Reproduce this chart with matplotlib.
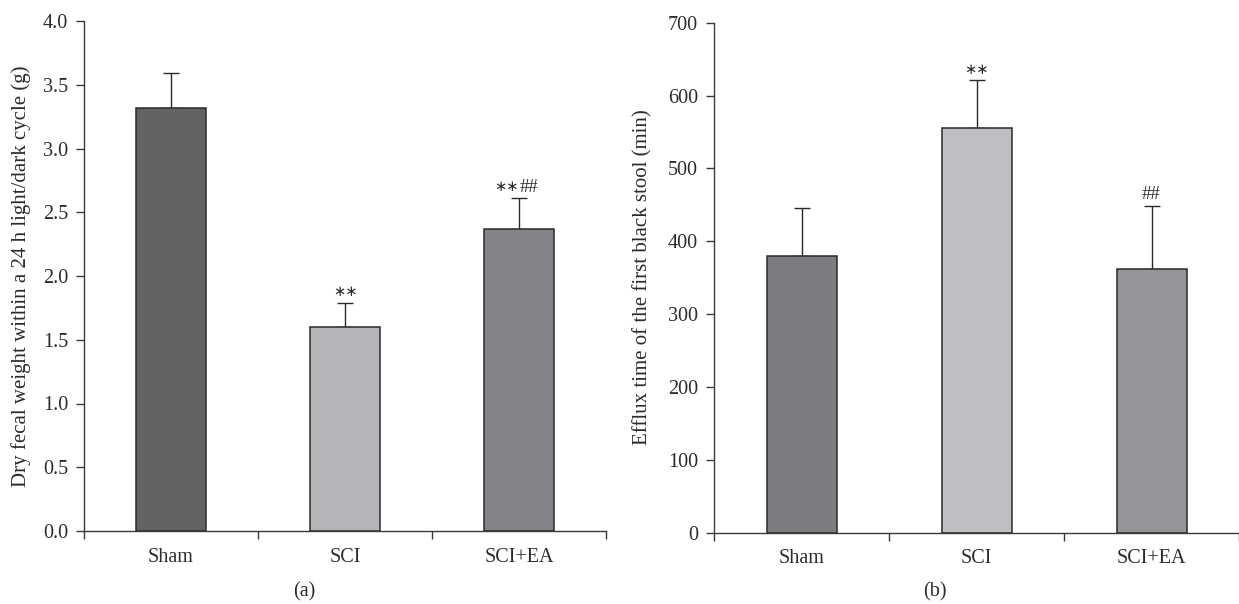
import numpy as np
import matplotlib
matplotlib.use("Agg")
import matplotlib.pyplot as plt
from matplotlib.ticker import FixedLocator, NullFormatter
from matplotlib.transforms import offset_copy

# data
groups = ["Sham", "SCI", "SCI+EA"]

fecal_mean = [3.315, 1.60, 2.366]
fecal_err = [0.275, 0.19, 0.248]
fecal_stars = ["", "\u2217\u2217", "\u2217\u2217"]
fecal_hash = ["", "", "##"]

efflux_mean = [380, 556, 362]
efflux_err = [65, 65, 86]
efflux_stars = ["", "\u2217\u2217", ""]
efflux_hash = ["", "", "##"]

colors_a = ["#636366", "#b4b5b8", "#838488"]
colors_b = ["#7c7d81", "#bebfc2", "#949598"]

plt.rcParams["font.family"] = ["Liberation Serif", "DejaVu Sans"]
TXT = "#2b2b2b"
AX = "#3a3a3a"


def draw_panel(ax, means, errs, stars, hashes, colors, ylim, yticks, fmt, ylabel, label_x, mark_gap):
    x = np.arange(len(groups))
    ax.bar(x, means, width=0.4, color=colors, edgecolor="#2a2a2a", linewidth=1.1, zorder=2)
    # one-sided error bars (upper only)
    ax.errorbar(x, means, yerr=[np.zeros(len(errs)), errs], fmt="none",
                ecolor="#2a2a2a", elinewidth=1.0, capsize=5.5, capthick=1.0, zorder=1)
    for xi, m, e, st, hs in zip(x, means, errs, stars, hashes):
        y = m + e + mark_gap
        if st and hs:
            tr = offset_copy(ax.transData, fig=ax.figure, x=0, y=0, units="dots")
            ax.text(xi, y, st, ha="right", va="bottom", fontsize=10.5,
                    family="DejaVu Sans", color=TXT, transform=tr)
            tr = offset_copy(ax.transData, fig=ax.figure, x=1, y=-2, units="dots")
            ax.text(xi, y, hs, ha="left", va="bottom", fontsize=13.5, color=TXT, transform=tr)
        elif st:
            ax.text(xi, y, st, ha="center", va="bottom", fontsize=10.5,
                    family="DejaVu Sans", color=TXT)
        elif hs:
            ax.text(xi, y, hs, ha="center", va="bottom", fontsize=13.5, color=TXT)

    ax.set_xlim(-0.5, 2.5)
    ax.set_ylim(*ylim)
    ax.set_xticks(x)
    ax.set_xticklabels(groups)
    ax.xaxis.set_minor_locator(FixedLocator([-0.5, 0.5, 1.5, 2.5]))
    ax.xaxis.set_minor_formatter(NullFormatter())
    ax.tick_params(axis="x", which="major", length=0, pad=12, labelsize=14.5, colors=TXT)
    ax.tick_params(axis="x", which="minor", length=6, width=1.0, direction="out", color=AX)
    ax.set_yticks(yticks)
    ax.set_yticklabels([fmt.format(v) for v in yticks])
    ax.tick_params(axis="y", length=5.5, width=1.0, direction="out", pad=6,
                   labelsize=14.5, colors=TXT)
    ax.tick_params(axis="y", color=AX)

    for s in ["top", "right"]:
        ax.spines[s].set_visible(False)
    for s in ["left", "bottom"]:
        ax.spines[s].set_color(AX)
        ax.spines[s].set_linewidth(1.0)

    ax.set_ylabel(ylabel, fontsize=15, color=TXT)
    ax.yaxis.set_label_coords(label_x, 0.5)


fig = plt.figure(figsize=(12.39, 6.04), dpi=100)
W, H = 1239.0, 604.0

ax1 = fig.add_axes([84 / W, (H - 531) / H, 522 / W, 510 / H])
ax2 = fig.add_axes([714 / W, (H - 532.5) / H, 525 / W, 509.8 / H])

draw_panel(ax1, fecal_mean, fecal_err, fecal_stars, fecal_hash, colors_a,
           (0, 4.0), np.arange(0, 4.01, 0.5), "{:.1f}",
           "Dry fecal weight within a 24 h light/dark cycle (g)", -0.1015, 0.03)
draw_panel(ax2, efflux_mean, efflux_err, efflux_stars, efflux_hash, colors_b,
           (0, 700), np.arange(0, 701, 100), "{:.0f}",
           "Efflux time of the first black stool (min)", -0.118, 5)

fig.text(304 / W, 1 - 592 / H, "(a)", ha="center", va="center", fontsize=14.5, color=TXT)
fig.text(935 / W, 1 - 592 / H, "(b)", ha="center", va="center", fontsize=14.5, color=TXT)

fig.savefig("out.png", dpi=100)
